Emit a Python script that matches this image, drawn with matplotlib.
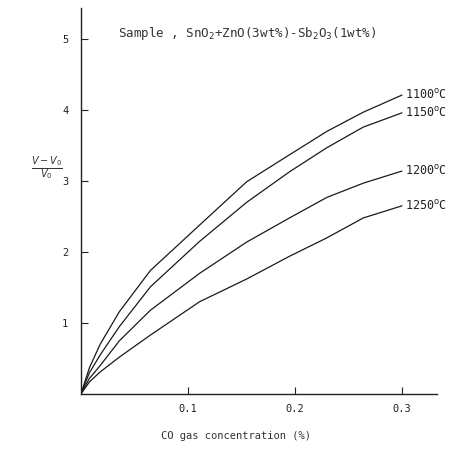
import matplotlib
matplotlib.use("Agg")
import matplotlib.pyplot as plt

# CO concentration (%) and response (V-V0)/V0
conc = [0.0, 0.008, 0.018, 0.036, 0.065, 0.111, 0.155, 0.195, 0.23, 0.264, 0.3]
r1100 = [0.0, 0.37, 0.70, 1.16, 1.74, 2.38, 2.99, 3.37, 3.70, 3.97, 4.21]
r1150 = [0.0, 0.30, 0.55, 0.95, 1.51, 2.15, 2.70, 3.13, 3.47, 3.76, 3.96]
r1200 = [0.0, 0.22, 0.40, 0.75, 1.18, 1.70, 2.14, 2.48, 2.77, 2.97, 3.14]
r1250 = [0.0, 0.17, 0.31, 0.52, 0.83, 1.30, 1.62, 1.94, 2.20, 2.48, 2.65]
temps = ["1100", "1150", "1200", "1250"]
yticks = [1, 2, 3, 4, 5]
xticks = [0.1, 0.2, 0.3]

mono = "DejaVu Sans Mono"
fig = plt.figure(figsize=(4.73, 4.49), dpi=100)
ax = fig.add_axes([0.171, 0.1225, 0.753, 0.86])

for ys, t in zip([r1100, r1150, r1200, r1250], temps):
    ax.plot(conc, ys, color="#1a1a1a", linewidth=0.9)
    ax.text(conc[-1] + 0.003, ys[-1], t + r"$^{\mathrm{o}}$C", fontsize=8.5,
            family=mono, ha="left", va="center", color="#222")

ax.set_xlim(0, 0.333)
ax.set_ylim(0, 5.44)
ax.spines["top"].set_visible(False)
ax.spines["right"].set_visible(False)
for s in ("left", "bottom"):
    ax.spines[s].set_linewidth(1.0)
    ax.spines[s].set_color("#222")

ax.set_xticks(xticks)
ax.set_xticklabels([str(v) for v in xticks], family=mono, fontsize=7.5, color="#333")
ax.set_yticks(yticks)
ax.set_yticklabels([str(v) for v in yticks], family=mono, fontsize=7.5, color="#333")
ax.tick_params(direction="in", length=5, width=0.8, colors="#222", pad=7)
ax.tick_params(axis="y", pad=9)

ax.set_xlabel("CO gas concentration (%)", family=mono, fontsize=7.5, color="#333")
ax.xaxis.set_label_coords(0.435, -0.095)

fig.text(0.10, 0.625, r"$\frac{V-V_0}{V_0}$", fontsize=10, ha="center", va="center", color="#333")
fig.text(0.25, 0.925, r"Sample , SnO$_2$+ZnO(3wt%)-Sb$_2$O$_3$(1wt%)",
         family=mono, fontsize=9, color="#333", ha="left", va="center")

fig.savefig("out.png", dpi=100)
